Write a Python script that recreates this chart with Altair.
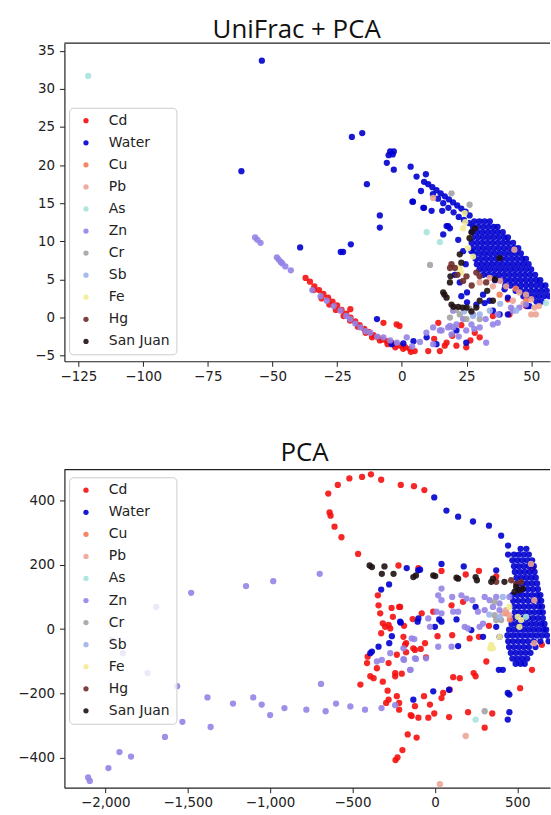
import altair as alt
import pandas as pd

GROUPS = ["Cd", "Water", "Cu", "Pb", "As", "Zn", "Cr", "Sb", "Fe", "Hg", "San Juan"]
COLORS = ["#f50f0f", "#0000cf", "#f27a55", "#eba495", "#a9e2dc", "#9583e6",
          "#a3a3a3", "#9db3ea", "#f2ec95", "#6e2b28", "#1f1111"]

# ---------------- UniFrac + PCA (first two components) ----------------
uni_cd = [(-37.2, 5.2), (-35.5, 4.7), (-33.8, 4.1), (-32, 3.6), (-30.3, 3.1), (-28.5, 2.6),
          (-26.8, 2.1), (-25, 1.6), (-23.3, 1.0), (-21.5, 0.5), (-19.8, 0.0), (-18, -0.5),
          (-16.3, -1.0), (-14.5, -1.5), (-12.8, -1.9), (-11, -2.3), (-9.3, -2.6), (-7.5, -2.9),
          (-5.8, -3.1), (-4, -3.3), (-2.3, -3.5), (-0.5, -3.7), (1.3, -3.9), (3, -4.1), (5, -4.4),
          (-34, 3.6), (-31, 2.5), (-28, 1.7), (-25.5, 1.0), (-22.5, 0.2), (-20, -0.4), (-17, -1.2),
          (-14, -2.0), (-11.5, -2.6), (-8.5, -3.0), (-5.5, -3.5), (-2.5, -3.9), (0.5, -4.1),
          (3.5, -4.5), (-19.9, 1.1), (-2, -0.9), (-0.9, -1.1), (-7.1, -0.7), (10.2, -4.4),
          (14.7, -4.4), (16.6, -3.7), (17.3, -3.3), (21.1, -3.7), (24.9, -3.9), (28.2, -2.0),
          (14.1, -0.7), (30.1, -2.6), (35.2, 0.2), (41, 2.4), (41.6, 0.4), (48, 1.5),
          (12.5, -2.8), (19.5, -2.4), (23, -1.0), (26.5, -3.0)]
uni_water = [(-54.1, 33.7), (-62, 19.2), (-19.3, 23.7), (-15.3, 24.2), (-4.5, 21.8),
             (-3.1, 21.8), (-5.1, 21.3), (-3.5, 21.4), (-5.8, 20.3), (-3.1, 19.4), (-13.5, 17.5),
             (-8.5, 13.4), (-8.5, 11.8), (-39.3, 9.2), (-19.7, 9.6), (-22.7, 8.6), (-23.6, 8.6),
             (3.4, 19.8), (5.7, 18.5), (9.3, 18.8), (4.3, 15.2), (7.4, 16.6), (8.6, 14.4),
             (11.5, 14.0), (4.1, 15.2), (8.3, 14.4), (15.6, 14.0), (17.3, 12.0), (18.6, 11.7),
             (21.8, 10.2), (23.7, 8.7), (26.9, 8.7), (24.7, 7.0), (23.0, 2.8), (25.2, 3.3),
             (25.2, 2.0), (31.4, 3.0), (32.0, 1.9), (39.7, 3.7), (41, 2.6), (48.6, 1.5),
             (37.8, 0.4), (41, 0.4), (22.4, 4.6), (20.5, 5.6), (-9.6, -0.2), (-3.9, -3.5),
             (0.6, -3.4), (9.6, -2.6), (13.4, -3.5), (24.9, -3.3), (21.1, -1.7), (4.5, -3.1),
             (28.8, 1.7), (33.9, 2.2), (35.2, 0.9), (49.3, 1.5), (16.0, 10.9), (17.9, 12.0),
             # band running into the main cloud
             (8.6, 17.8), (10.2, 17.5), (11.8, 17.1), (13.4, 16.7), (15, 16.3), (16.6, 15.9),
             (18.2, 15.5), (19.8, 15.1), (21.4, 14.7), (23, 14.3), (24.6, 13.9), (26.2, 13.4),
             (12, 16.2), (14, 15.6), (16, 15.0), (18, 14.4), (20, 13.8), (22, 13.2), (24, 12.8),
             (26, 12.4),
             # main cloud
             (28, 12.6), (30, 12.6), (32, 12.6), (34, 12.6),
             (27.5, 11.9), (29.5, 11.9), (31.5, 11.9), (33.5, 11.9), (35.5, 11.9), (37, 11.9),
             (27, 11.2), (29, 11.2), (31, 11.2), (33, 11.2), (35, 11.2), (37, 11.2), (39, 11.2),
             (27.5, 10.5), (29.5, 10.5), (31.5, 10.5), (33.5, 10.5), (35.5, 10.5), (37.5, 10.5),
             (39.5, 10.5), (41, 10.5),
             (27, 9.8), (29, 9.8), (31, 9.8), (33, 9.8), (35, 9.8), (37, 9.8), (39, 9.8), (41, 9.8),
             (43, 9.8),
             (27.5, 9.1), (29.5, 9.1), (31.5, 9.1), (33.5, 9.1), (35.5, 9.1), (37.5, 9.1),
             (39.5, 9.1), (41.5, 9.1), (43.5, 9.1), (45, 9.1),
             (28, 8.4), (30, 8.4), (32, 8.4), (34, 8.4), (36, 8.4), (38, 8.4), (40, 8.4), (42, 8.4),
             (44, 8.4), (46, 8.4),
             (28.5, 7.7), (30.5, 7.7), (32.5, 7.7), (34.5, 7.7), (36.5, 7.7), (38.5, 7.7),
             (40.5, 7.7), (42.5, 7.7), (44.5, 7.7), (46.5, 7.7), (48, 7.7),
             (29, 7.0), (31, 7.0), (33, 7.0), (35, 7.0), (37, 7.0), (39, 7.0), (41, 7.0), (43, 7.0),
             (45, 7.0), (47, 7.0), (49, 7.0),
             (30, 6.3), (32, 6.3), (34, 6.3), (36, 6.3), (38, 6.3), (40, 6.3), (42, 6.3), (44, 6.3),
             (46, 6.3), (48, 6.3), (50, 6.3),
             (31.5, 5.6), (33.5, 5.6), (35.5, 5.6), (37.5, 5.6), (39.5, 5.6), (41.5, 5.6),
             (43.5, 5.6), (45.5, 5.6), (47.5, 5.6), (49.5, 5.6), (51.5, 5.6),
             (36, 4.9), (38, 4.9), (40, 4.9), (42, 4.9), (44, 4.9), (46, 4.9), (48, 4.9), (50, 4.9),
             (52, 4.9), (53.5, 4.9),
             (40, 4.2), (42, 4.2), (44, 4.2), (46, 4.2), (48, 4.2), (50, 4.2), (52, 4.2), (54, 4.2),
             (55.5, 4.2),
             (44, 3.5), (46, 3.5), (48, 3.5), (50, 3.5), (52, 3.5), (54, 3.5), (56, 3.5),
             (47, 2.8), (49, 2.8), (51, 2.8), (53, 2.8), (55, 2.8), (57, 2.8),
             (52, 2.1), (54, 2.1)]
uni_cu = [(37.8, 3.0), (48, 2.2), (44, 3.8)]
uni_pb = [(35.2, 4.1), (40.3, 4.1), (45.4, 3.3), (48, 3.0), (50, 2.4), (51.2, 1.3), (50, 0.4),
          (51.8, 0.4), (42.9, 2.2), (30.1, 4.6), (34, 5.2), (12.1, 15.7), (43.5, 8.9),
          (53, 1.5), (47, 1.8), (38, 4.8)]
uni_as = [(-121.2, 31.7), (9.6, 11.2), (14.7, 9.9), (55.7, 1.9)]
uni_zn = [(-56.7, 10.5), (-55.8, 10.2), (-54.6, 9.8), (-48.3, 7.9), (-47.6, 7.6), (-46.8, 7.3),
          (-46.2, 7.1), (-45, 6.7), (-42.9, 6.2), (-34.6, 3.6), (-31.4, 2.8), (-29, 2.2),
          (-26.3, 1.5), (-23.7, 0.9), (-21.5, 0.2), (-19.9, -0.2), (-18, -0.8), (-16, -1.3),
          (-14, -1.8), (-12.2, -2.0), (-9.5, -2.5), (-7.1, -2.6), (-4.5, -3.0), (-1.9, -3.3),
          (1.9, -2.6), (4, -3.8), (7, -3.2), (9.5, -2.0), (12.1, -1.3), (12.1, -3.5),
          (14.7, -1.7), (17.9, -1.3), (19.8, -1.3), (19.8, 0.9), (21.1, -0.9), (23.7, -0.2),
          (24.9, -1.7), (26.9, -0.9), (27.5, 0.4), (30.1, -1.3), (32.4, -0.2), (32.6, -3.3),
          (35.2, -0.9), (37.1, 0.4), (37.1, -0.7), (42.2, 1.3), (42.9, 0.9), (45.4, 1.3),
          (48, 1.7), (15.4, -1.7), (18.6, -1.1), (19.2, -2.2), (22, -2.5), (28, -1.5)]
uni_cr = [(10.9, 6.9), (19.2, 16.3), (26.2, 14.8), (18.6, 0), (22.4, 0.4), (25, -0.2),
          (30.1, -0.2), (21, 1.0), (26, 1.2)]
uni_sb = [(34, 0.9), (30.1, 0.4), (44.2, 0.9), (27.5, 0.2), (24, 0.8), (38, 1.8)]
uni_fe = [(24.3, 13.7), (23.7, 11.7), (25.6, 9.1), (27.5, 8.0), (22.4, 6.5), (23, 5.9),
          (24.5, 12.5), (26, 10.5)]
uni_hg = [(18.6, 6.5), (20.5, 6.5), (25, 5.4), (28.8, 5.9), (30.1, 5.4), (32.6, 4.6),
          (19.2, 7.0), (23.7, 4.8), (27, 4.2), (21.5, 5.6)]
uni_sj = [(28.2, 11.7), (27, 11.2), (26.2, 10.4), (22.4, 8.3), (23, 7.2), (18.8, 5.4),
          (18.6, 4.6), (16, 3.3), (16.5, 3.0), (17.3, 2.6), (19.2, 1.7), (20, 1.4), (21.8, 1.4),
          (23.5, 1.3), (25, 1.3), (26.9, 0.8), (28.8, 1.3), (30.1, 2.2), (35.2, 2.2), (37.8, 7.8),
          (36, 5.0), (33, 3.5)]

# ---------------- PCA on raw abundances ----------------
pca_cd = [(-388, 482), (-442, 474), (-519, 469), (-589, 449), (-647, 422), (-639, 363),
          (-633, 353), (-609, 319), (-567, 286), (-466, 234), (-326, 465), (-207, 449),
          (-127, 445), (-64, 433), (-221, 198), (40, 181), (187, 170), (267, 181), (-100, 190),
          (372, 164), (593, 191),
          (-346, 105), (-342, 74), (-332, 49), (-263, 66), (-217, 69), (-255, 38), (-316, 18),
          (-302, 7), (-281, 13), (-326, -13), (-271, 2), (-191, -24), (-175, -44), (-231, -80),
          (-281, -106), (-408, -86), (-412, -106), (-392, -147), (-372, -153), (-452, -173),
          (-316, -164), (-241, -137), (-241, -147), (-201, -139), (-287, -192), (-231, -209),
          (-281, -220), (-296, -230), (-217, -230), (-217, -251), (-121, -240), (-147, -268),
          (-165, -328), (-111, -338), (-197, -377), (-227, -400), (-239, -408), (-135, 31),
          (-187, 10), (-175, -72), (-121, -65), (-352, -122),
          (-211, 69), (-80, 49), (-10, 54), (-181, -49), (-131, -60), (-86, -62), (-60, -44),
          (-54, -88), (16, -22), (105, -19), (101, 74), (171, 85), (211, -29), (267, -24),
          (328, 10), (312, -101), (111, -150), (151, -153), (235, -137), (247, -147),
          (-66, -209), (-30, -235), (-141, -271), (-100, -276), (-40, -276), (-4, -263),
          (40, -215), (50, -199), (90, -189), (86, -274), (201, -259), (348, -263), (302, -307),
          (517, -184), (589, -127), (649, -49)]
pca_water = [(-4, 410), (70, 369), (141, 350), (231, 335), (328, 322), (402, 291), (444, 260),
             (444, 232), (-171, 190), (-101, 183), (-90, 185), (40, 203), (175, 195), (372, 183),
             (-326, 123), (-278, 139), (-207, 20), (-261, -22), (-277, -44), (-342, -55),
             (-382, -70), (-392, -75), (-131, -220), (-105, 23), (-211, 23), (-100, 33), (0, 7),
             (40, 23), (26, 30), (131, 30), (141, -53), (-10, -194), (86, -189), (221, -3),
             (247, 69), (292, -24), (392, -24), (372, 7), (388, -127), (412, -127), (442, -199),
             (452, -204), (452, -259), (442, -282), (583, 203),
             # dense cloud on the right
             (520, 250), (555, 250),
             (480, 232), (510, 232), (540, 232), (570, 232),
             (470, 214), (500, 214), (530, 214), (560, 214), (590, 214),
             (480, 196), (510, 196), (540, 196), (570, 196), (600, 196),
             (485, 178), (515, 178), (545, 178), (575, 178), (605, 178),
             (495, 160), (525, 160), (555, 160), (585, 160), (612, 160),
             (500, 142), (530, 142), (560, 142), (590, 142), (620, 142),
             (505, 124), (535, 124), (565, 124), (595, 124), (625, 124),
             (470, 106), (500, 106), (530, 106), (560, 106), (590, 106), (620, 106), (640, 106),
             (475, 88), (505, 88), (535, 88), (565, 88), (595, 88), (625, 88), (645, 88),
             (480, 70), (510, 70), (540, 70), (570, 70), (600, 70), (630, 70), (650, 70),
             (485, 52), (515, 52), (545, 52), (575, 52), (605, 52), (635, 52), (655, 52),
             (475, 34), (505, 34), (535, 34), (565, 34), (595, 34), (625, 34), (655, 34),
             (465, 16), (495, 16), (525, 16), (555, 16), (585, 16), (615, 16), (645, 16), (665, 16),
             (450, -2), (480, -2), (510, -2), (540, -2), (570, -2), (600, -2), (630, -2), (660, -2),
             (675, -2),
             (440, -20), (470, -20), (500, -20), (530, -20), (560, -20), (590, -20), (620, -20),
             (650, -20), (680, -20),
             (445, -38), (475, -38), (505, -38), (535, -38), (565, -38), (600, -38), (640, -38),
             (690, -38),
             (450, -56), (480, -56), (510, -56), (540, -56), (570, -56), (610, -56),
             (460, -74), (490, -74), (520, -74), (550, -74), (580, -74),
             (470, -92), (500, -92), (530, -92), (560, -92),
             (490, -108), (520, -108), (545, -108)]
pca_cu = [(432, 49), (455, 30)]
pca_pb = [(432, 59), (452, 43), (412, 49), (187, -333), (30, -483), (603, 90), (603, -44),
          (583, 203)]
pca_as = [(247, -282), (553, 38)]
pca_zn = [(-2104, -462), (-2094, -473), (-1981, -433), (-1914, -383), (-1844, -397),
          (-1638, -336), (-1361, -305), (-1380, -213), (-1225, -232), (-1102, -213),
          (-1051, -235), (-1000, -268), (-913, -246), (-780, -251), (-663, -256), (-600, -232),
          (-513, -241), (-424, -251), (-324, -246), (-241, -237), (-691, -171), (-699, 172),
          (-981, 149), (-1146, 134), (-1479, 113), (-1691, 69), (-1960, -34), (-1744, -137),
          (-1564, -178), (-1532, -289), (-1893, -75),
          (40, 126), (40, 90), (20, 105), (105, 100), (161, 105), (191, 95), (227, 90),
          (302, 100), (332, 90), (372, 100), (392, 80), (452, 100), (10, 54), (40, 49),
          (-40, 33), (-30, 7), (111, 54), (141, 54), (181, 7), (201, 2), (271, 7), (292, 17),
          (20, -55), (101, -55), (-54, -91), (-121, -91), (-191, -94), (-151, -127),
          (-141, -29), (302, 59), (352, 69), (392, 59), (261, 54), (-271, -75), (-352, -101),
          (-322, -96), (-191, -60), (-187, -96), (-125, -31), (-115, -93), (-147, -127)]
pca_cr = [(302, -256), (372, 28), (362, 43), (402, 28), (362, 85)]
pca_sb = [(412, 100), (392, 38), (330, 45)]
pca_fe = [(342, -49), (352, -60), (336, -60), (513, 7), (523, 28), (503, 38), (452, 69),
          (392, -24)]
pca_hg = [(493, 141), (462, 152), (523, 147), (372, 147)]
pca_sj = [(-396, 198), (-382, 193), (-306, 195), (-322, 172), (-251, 172), (-131, 162),
          (-115, 167), (-10, 167), (2, 165), (131, 160), (141, 157), (255, 152), (247, 162),
          (342, 147), (352, 157), (422, 147), (493, 131), (513, 121), (533, 126), (483, 116)]

UNI = [uni_cd, uni_water, uni_cu, uni_pb, uni_as, uni_zn, uni_cr, uni_sb, uni_fe, uni_hg, uni_sj]
PCA = [pca_cd, pca_water, pca_cu, pca_pb, pca_as, pca_zn, pca_cr, pca_sb, pca_fe, pca_hg, pca_sj]


def frame(series):
    rows = []
    for name, pts in zip(GROUPS, series):
        for x, y in pts:
            rows.append({"x": x, "y": y, "group": name})
    return pd.DataFrame(rows)


W = 488.5
H = 320


def panel(series, title, title_dx, title_offset, xdom, ydom, xticks, yticks, legend_y):
    pts = alt.Chart(frame(series)).mark_circle(size=40, opacity=0.9, clip=True).encode(
        x=alt.X("x:Q", scale=alt.Scale(domain=xdom, nice=False, zero=False),
                axis=alt.Axis(values=xticks, title=None, labelPadding=3)),
        y=alt.Y("y:Q", scale=alt.Scale(domain=ydom, nice=False, zero=False),
                axis=alt.Axis(values=yticks, title=None, labelPadding=5)),
        color=alt.Color("group:N", sort=GROUPS,
                        scale=alt.Scale(domain=GROUPS, range=COLORS),
                        legend=alt.Legend(orient="none", legendX=4.7, legendY=legend_y,
                                          title=None, fillColor="rgba(255,255,255,0.8)",
                                          strokeColor="#cccccc", cornerRadius=4, padding=6,
                                          symbolType="circle", symbolSize=28,
                                          symbolStrokeWidth=0, symbolOpacity=0.9,
                                          symbolOffset=4, labelOffset=16,
                                          labelFont="DejaVu Sans", labelFontSize=14,
                                          labelColor="#222222", rowPadding=8.2)),
    )
    top_edge = alt.Chart(pd.DataFrame({"k": [0]})).mark_rule(color="#222222", strokeWidth=1.2).encode(
        x=alt.value(0), x2=alt.value(W), y=alt.value(0)
    )
    return alt.layer(pts, top_edge).properties(
        width=W, height=H,
        title=alt.TitleParams(title, font="Open Sans", fontSize=26, fontWeight="normal",
                              color="#111111", anchor="middle", dx=title_dx,
                              offset=title_offset),
    )


top = panel(UNI, "UniFrac + PCA", -10.6, 0, [-130.4, 57.27], [-5.74, 36.0],
            [-125, -100, -75, -50, -25, 0, 25, 50], [-5, 0, 5, 10, 15, 20, 25, 30, 35], 65)
bottom = panel(PCA, "PCA", -2.6, 3, [-2248, 698.4], [-494.1, 496.6],
               [-2000, -1500, -1000, -500, 0, 500], [-400, -200, 0, 200, 400], 7.7)

chart = alt.vconcat(top, bottom, spacing=57).resolve_scale(color="independent").properties(
    padding={"left": 16.8, "top": 14, "right": 0, "bottom": 0}
).configure_view(stroke=None).configure_axis(
    grid=False, domainColor="#222222", domainWidth=1.2, tickColor="#222222", tickSize=5,
    labelColor="#222222", labelFont="DejaVu Sans", labelFontSize=13.5
)

chart.save("out.html", embed_options={"renderer": "svg", "actions": False})
